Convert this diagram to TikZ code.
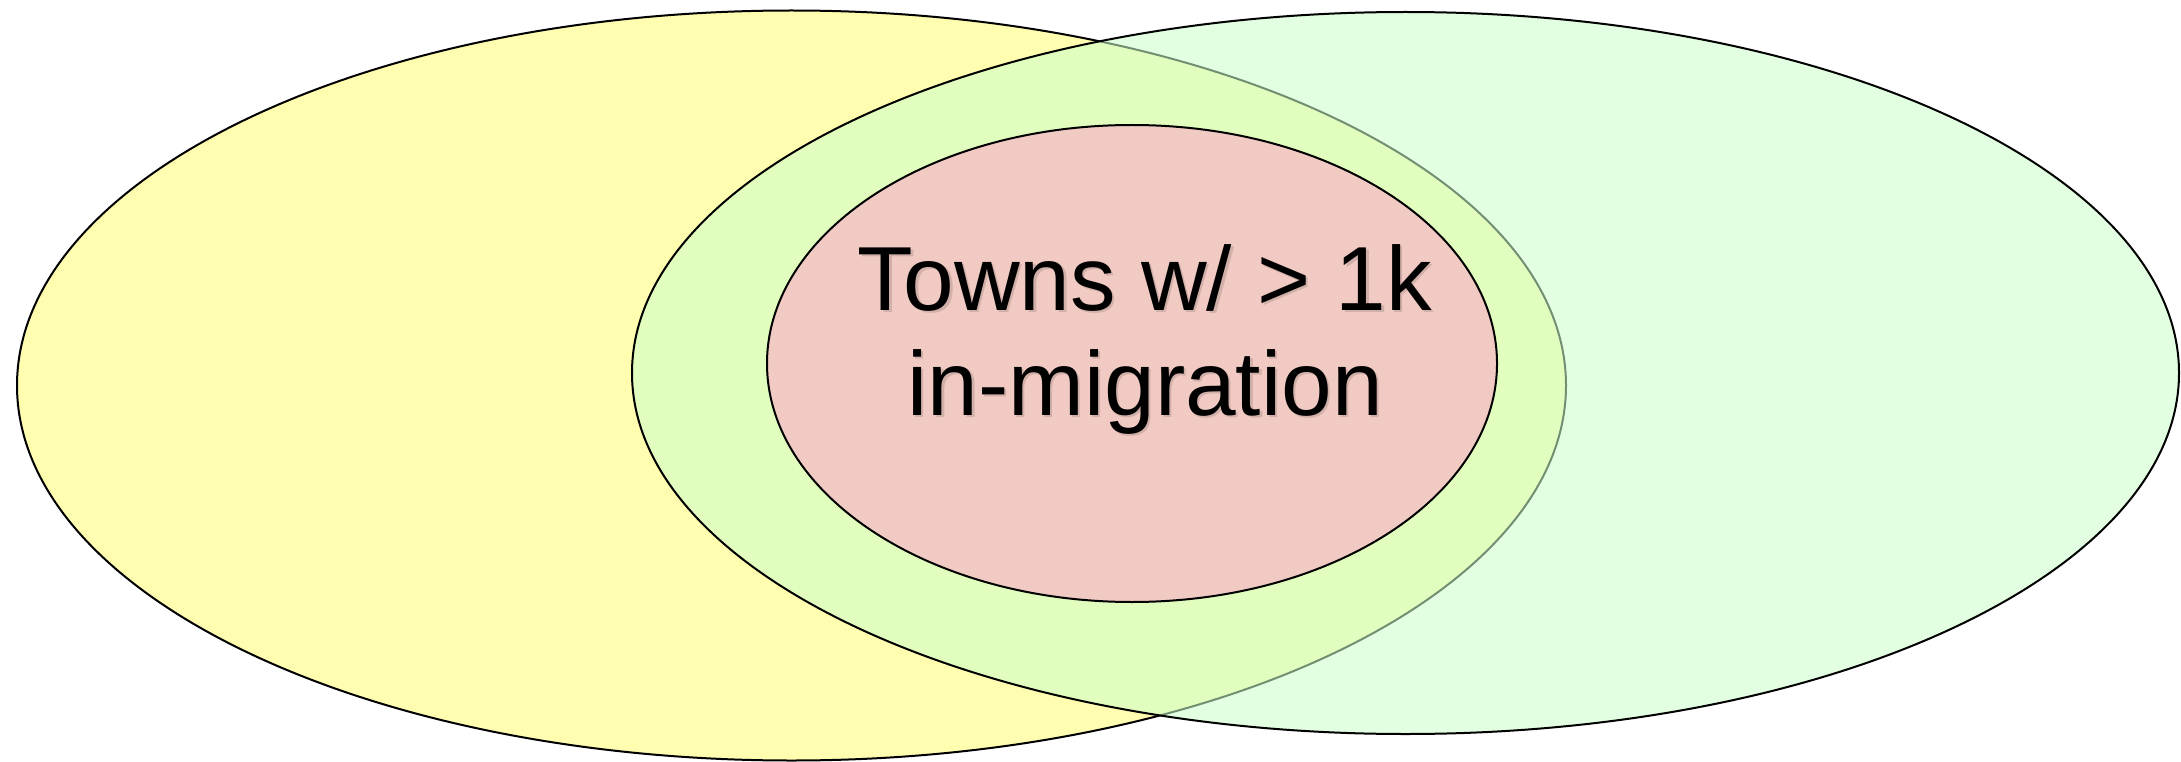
\documentclass[tikz,border=0pt]{standalone}
\usepackage{fontspec}
\setmainfont{Liberation Sans}
\definecolor{ylw}{RGB}{255,253,175}
\definecolor{grn}{RGB}{205,255,205}
\definecolor{pnk}{RGB}{241,203,195}
\begin{document}
\begin{tikzpicture}[x=1pt,y=-1pt,
  outl/.style={draw=black,line width=2pt},
  lbl/.style={anchor=base,inner sep=0pt,font=\fontsize{91}{103}\selectfont},
  shd/.style={lbl,text=black,text opacity=0.13}]
\useasboundingbox (0,0) rectangle (2181,762);
\fill[white] (0,0) rectangle (2181,762);
% yellow set
\draw[outl,fill=ylw] (791.5,385.5) ellipse [x radius=774.5pt, y radius=375pt];
% green set (semi-transparent fill)
\draw[outl,fill=grn,fill opacity=0.56] (1405.5,373) ellipse [x radius=773.5pt, y radius=361pt];
% red inner set
\draw[outl,fill=pnk] (1132,363.5) ellipse [x radius=365pt, y radius=238.5pt];
% label with soft shadow
\node[shd] (s1) at (1147.5,312.5) {Towns w/ > 1k};
\node[shd] (s2) at (1147.5,417.5) {in-migration};
\node[lbl] (l1) at (1145,310) {Towns w/ > 1k};
\node[lbl] (l2) at (1145,415) {in-migration};
\end{tikzpicture}
\end{document}
